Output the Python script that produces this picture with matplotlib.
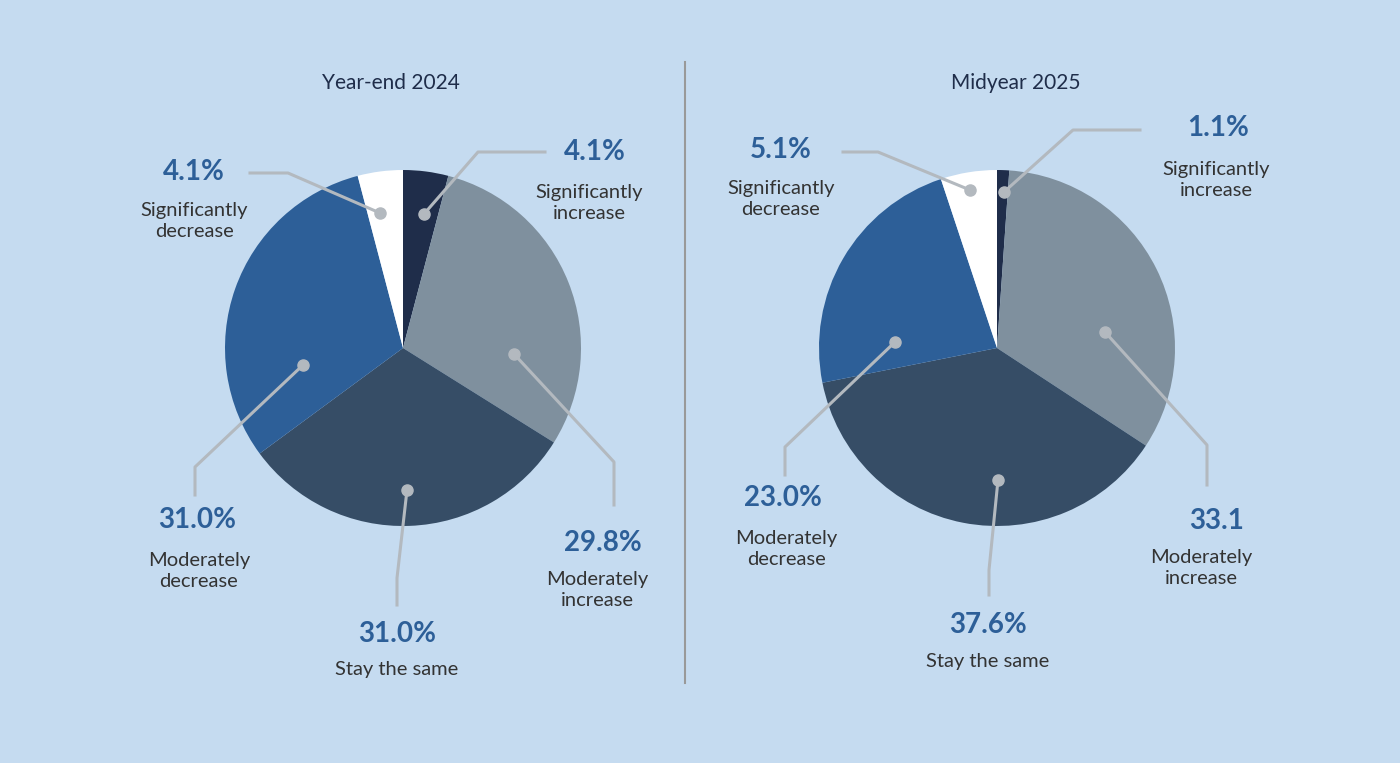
import matplotlib
matplotlib.use("Agg")
import matplotlib.pyplot as plt

categories = ["Significantly increase", "Moderately increase", "Stay the same",
              "Moderately decrease", "Significantly decrease"]
yearend_2024 = [4.1, 29.8, 31.0, 31.0, 4.1]
midyear_2025 = [1.1, 33.1, 37.6, 23.0, 5.1]
labels_2024 = ["4.1%", "29.8%", "31.0%", "31.0%", "4.1%"]
labels_2025 = ["1.1%", "33.1", "37.6%", "23.0%", "5.1%"]
desc = ["Significantly\nincrease", "Moderately\nincrease", "Stay the same",
        "Moderately\ndecrease", "Significantly\ndecrease"]
colors = ["#1f2d4a", "#7f909e", "#364d66", "#2d5f98", "#ffffff"]

BG = "#c5dbf0"
H = 763
plt.rcParams["font.family"] = ["Lato", "DejaVu Sans"]

fig = plt.figure(figsize=(14, 7.63), dpi=100, facecolor=BG)
ax = fig.add_axes([0, 0, 1, 1])
ax.set_xlim(0, 1400)
ax.set_ylim(0, H)
ax.set_facecolor(BG)
ax.axis("off")


def y(v):
    return H - v


# leader layouts (image pixel coords): dot, elbow, end, pct pos, desc pos
lay_2024 = [
    [(424, 214), (478, 152), (545, 152), (595, 152), (589, 203)],
    [(514, 354), (614, 462), (614, 505), (603, 543), (597, 590)],
    [(407, 490), (397, 578), (397, 605), (397, 634), (397, 670)],
    [(303, 365), (195, 467), (195, 495), (197, 520), (199, 571)],
    [(380, 213), (288, 173), (250, 173), (194, 172), (194, 221)],
]
lay_2025 = [
    [(1004, 192), (1073, 130), (1140, 130), (1218, 128), (1216, 180)],
    [(1105, 332), (1207, 445), (1207, 485), (1217, 521), (1201, 568)],
    [(998, 480), (989, 570), (989, 595), (988, 625), (988, 661)],
    [(895, 342), (785, 447), (785, 475), (783, 498), (786, 549)],
    [(970, 190), (878, 152), (843, 152), (781, 150), (781, 199)],
]

panels = [
    (403, "Year-end 2024", 391, yearend_2024, labels_2024, lay_2024),
    (997, "Midyear 2025", 1016, midyear_2025, labels_2025, lay_2025),
]

for cx, title, tx, vals, labs, lay in panels:
    ax.pie(vals, colors=colors, startangle=90, counterclock=False,
           center=(cx, y(348)), radius=178, frame=True,
           wedgeprops=dict(linewidth=0))
    ax.text(tx, y(83), title, ha="center", va="center", fontsize=15,
            color="#1f2d4a")
    for lab, d, (dot, elb, end, pp, dp) in zip(labs, desc, lay):
        xs = [dot[0], elb[0], end[0]]
        ys = [y(dot[1]), y(elb[1]), y(end[1])]
        ax.plot(xs, ys, color="#b3b9bf", lw=2.2, zorder=5)
        ax.plot(dot[0], y(dot[1]), "o", color="#b3b9bf", ms=8, zorder=6)
        ax.text(pp[0], y(pp[1]), lab, ha="center", va="center", fontsize=20,
                fontweight="bold", color="#2d5f98")
        ax.text(dp[0], y(dp[1]), d, ha="center", va="center", fontsize=14.5,
                color="#333333", linespacing=1.25)

ax.plot([685, 685], [y(62), y(683)], color="#999999", lw=1.5)
ax.set_xlim(0, 1400)
ax.set_ylim(0, H)
ax.set_aspect("auto")
ax.axis("off")

fig.savefig("out.png", dpi=100, facecolor=BG)
